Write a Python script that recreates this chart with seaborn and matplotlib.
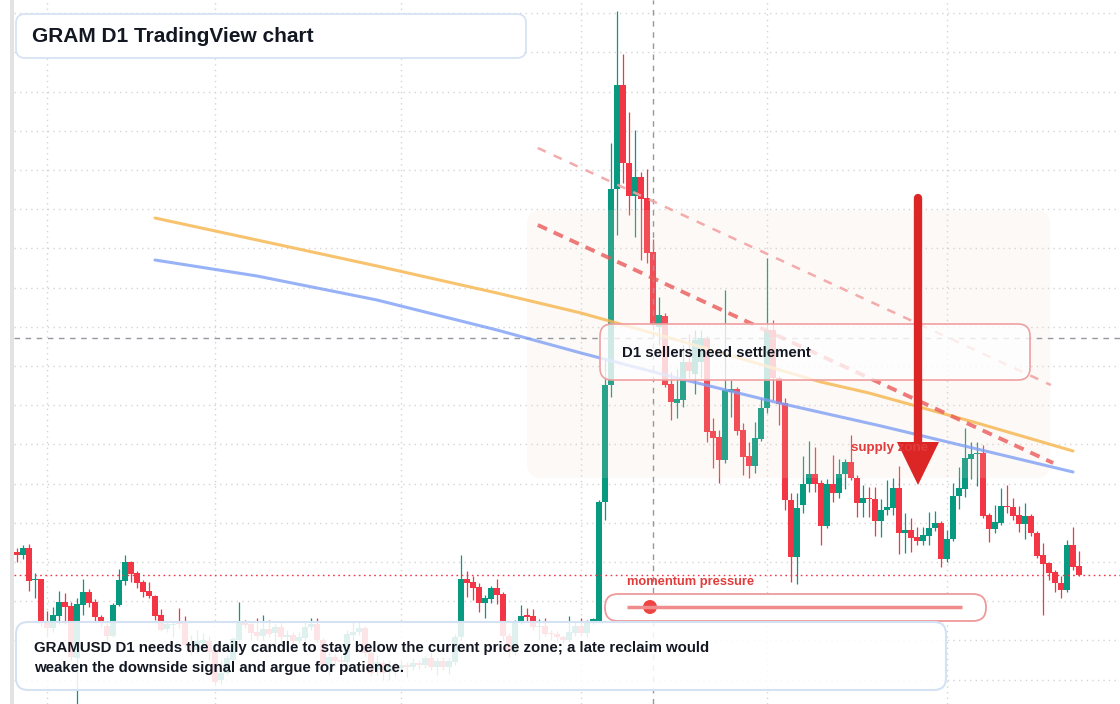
import numpy as np
import pandas as pd
import matplotlib
matplotlib.use("Agg")
import matplotlib.pyplot as plt
import seaborn as sns
from matplotlib.patches import FancyBboxPatch, Rectangle, Polygon, Circle

# GRAMUSD daily candles (price units, x1e-4)
opens = [15.2, 14.9, 15.6, 12.4, 12.5, 8.2, 7.6, 8.8, 10.2, 9.8,
         4.6, 9.9, 11.2, 10.2, 8.7, 7.8, 6.8, 9.9, 12.3, 14.2,
         13.1, 12.2, 11.3, 10.8, 8.9, 7.5, 7.9, 8.2, 8.2, 5.9,
         5.4, 6.1, 6.3, 5.4, 2.4, 3.1, 4.4, 6.4, 8.2, 8.0,
         7.2, 6.8, 7.5, 7.1, 7.7, 6.7, 6.9, 6.3, 6.6, 7.7,
         8.0, 6.4, 3.7, 4.7, 4.4, 4.2, 6.9, 7.2, 7.6, 5.1,
         3.4, 4.1, 3.2, 3.8, 3.6, 3.9, 3.7, 4.1, 3.9, 4.6,
         3.7, 4.3, 3.7, 4.2, 6.7, 12.5, 12.2, 11.7, 10.1, 10.5,
         11.6, 11.0, 6.8, 5.2, 8.2, 8.9, 8.8, 7.7, 7.8, 7.1,
         7.0, 6.7, 6.4, 7.1, 7.8, 7.1, 8.2, 8.3, 20.2, 31.9,
         51.5, 61.9, 54.1, 50.8, 52.7, 50.6, 45.2, 37.7, 38.8, 32.0,
         30.1, 30.4, 34.2, 33.0, 34.2, 36.6, 27.3, 26.7, 24.4, 31.2,
         31.5, 27.4, 24.8, 23.8, 26.5, 29.6, 37.4, 32.6, 30.1, 20.4,
         14.7, 19.9, 22.0, 23.0, 22.1, 17.8, 22.0, 21.1, 23.0, 24.2,
         22.6, 20.1, 20.6, 20.5, 18.3, 19.4, 19.6, 21.6, 17.1, 17.4,
         16.7, 16.3, 16.8, 17.6, 18.1, 14.5, 16.5, 20.8, 21.5, 24.5,
         25.0, 25.1, 18.9, 17.5, 18.1, 19.8, 19.7, 18.9, 18.0, 18.8,
         17.1, 14.9, 14.1, 13.2, 12.1, 11.4, 15.9, 13.8]
highs = [15.6, 15.9, 16.0, 13.1, 12.5, 9.3, 9.7, 11.3, 11.1, 10.2,
         10.6, 12.5, 11.5, 10.5, 8.9, 8.2, 10.1, 13.5, 14.9, 14.3,
         13.3, 12.4, 12.2, 10.9, 9.5, 8.3, 8.3, 9.6, 8.8, 6.9,
         7.4, 7.1, 6.8, 5.9, 4.4, 4.9, 6.7, 10.2, 8.4, 8.2,
         8.6, 8.9, 8.4, 8.0, 8.1, 7.4, 7.2, 7.2, 8.2, 8.6,
         8.6, 6.6, 5.2, 5.0, 4.9, 7.4, 8.2, 8.3, 7.8, 5.4,
         4.9, 4.4, 4.4, 4.2, 4.4, 4.2, 4.6, 4.4, 4.8, 5.2,
         4.6, 4.7, 4.6, 7.0, 14.9, 13.3, 12.8, 12.1, 10.9, 11.8,
         12.5, 11.2, 7.1, 8.4, 9.9, 9.6, 9.5, 8.5, 8.6, 7.4,
         7.3, 6.9, 8.8, 8.2, 8.6, 8.4, 8.6, 20.4, 34.6, 56.1,
         69.3, 65.0, 59.2, 57.4, 53.2, 53.5, 46.5, 40.7, 39.1, 33.2,
         33.5, 35.9, 37.0, 37.4, 37.4, 36.8, 28.6, 27.4, 41.4, 32.4,
         31.7, 28.1, 26.2, 28.2, 30.6, 44.6, 38.4, 32.8, 30.6, 21.1,
         21.1, 24.8, 26.3, 25.7, 22.4, 22.5, 24.9, 24.5, 24.5, 26.9,
         22.9, 21.9, 21.7, 21.7, 20.5, 22.4, 22.6, 23.8, 19.1, 18.6,
         17.7, 17.7, 19.2, 19.3, 18.3, 17.4, 22.1, 23.7, 27.6, 26.2,
         26.2, 25.9, 19.1, 19.9, 21.6, 21.9, 20.6, 19.8, 20.1, 19.0,
         17.3, 16.1, 14.2, 13.4, 12.8, 16.4, 17.7, 15.3]
lows = [14.2, 14.5, 11.3, 10.6, 7.8, 6.7, 7.2, 8.0, 8.0, 4.4,
        0.0, 8.9, 9.7, 8.2, 7.7, 6.3, 6.7, 9.8, 11.9, 12.2,
        11.6, 10.7, 10.6, 8.4, 7.3, 7.2, 6.7, 7.6, 5.7, 4.9,
        5.1, 5.6, 4.4, 1.9, 2.0, 2.9, 4.2, 6.1, 7.6, 6.4,
        6.4, 6.4, 6.7, 5.9, 6.1, 6.1, 5.9, 6.0, 6.3, 7.4,
        6.2, 3.6, 2.9, 3.8, 3.4, 3.6, 6.4, 6.9, 4.8, 2.8,
        2.9, 2.4, 2.4, 2.8, 3.2, 2.7, 3.4, 3.5, 3.6, 3.4,
        2.9, 3.4, 3.0, 3.9, 6.4, 10.7, 10.4, 9.2, 8.6, 10.1,
        10.0, 6.4, 4.7, 4.9, 8.0, 8.3, 7.4, 6.4, 6.8, 6.4,
        6.2, 6.1, 6.2, 6.8, 6.8, 6.7, 8.0, 8.2, 18.4, 30.7,
        46.9, 52.1, 48.9, 46.7, 44.4, 44.1, 37.4, 35.9, 31.7, 28.4,
        28.6, 29.7, 32.6, 31.0, 32.6, 26.2, 23.6, 22.1, 24.1, 28.7,
        26.9, 22.9, 22.6, 23.1, 26.3, 29.1, 30.4, 27.9, 19.4, 12.2,
        12.0, 19.1, 21.2, 21.2, 15.9, 17.6, 20.2, 20.6, 21.5, 22.4,
        18.7, 18.7, 18.7, 16.8, 16.7, 18.9, 18.9, 15.0, 15.1, 15.2,
        15.9, 15.9, 15.9, 17.3, 13.7, 14.2, 16.3, 19.5, 20.7, 22.5,
        21.8, 18.6, 16.2, 17.1, 17.9, 19.1, 18.4, 17.2, 16.5, 16.8,
        14.6, 8.9, 12.4, 11.2, 10.6, 11.2, 13.4, 12.8]
closes = [14.9, 15.6, 12.3, 12.5, 8.1, 7.6, 8.9, 10.2, 9.7, 4.7,
          10.0, 11.2, 10.1, 8.7, 8.2, 6.8, 9.9, 12.4, 14.2, 13.0,
          12.1, 11.2, 10.8, 8.8, 7.4, 8.0, 8.0, 8.0, 5.9, 5.4,
          6.3, 6.4, 5.2, 2.2, 3.1, 4.6, 6.5, 8.2, 7.9, 7.1,
          6.8, 7.5, 7.0, 7.7, 6.7, 6.9, 6.3, 6.7, 7.7, 8.0,
          6.4, 3.9, 4.7, 4.3, 4.2, 7.0, 7.2, 7.6, 5.1, 3.1,
          4.2, 3.1, 3.8, 3.5, 3.9, 3.7, 4.1, 3.9, 4.6, 3.7,
          4.3, 3.7, 4.3, 6.7, 12.5, 12.1, 11.6, 10.1, 10.6, 11.6,
          10.9, 6.8, 5.2, 8.2, 8.8, 8.7, 7.7, 7.8, 7.0, 7.0,
          6.7, 6.4, 7.2, 7.8, 7.1, 8.2, 8.5, 20.2, 31.9, 51.5,
          61.9, 54.1, 50.8, 52.7, 50.5, 45.1, 37.9, 38.9, 31.9, 30.2,
          30.5, 34.2, 33.3, 36.4, 36.6, 27.2, 26.6, 24.4, 31.4, 31.5,
          27.3, 24.7, 23.8, 26.6, 29.6, 37.4, 32.6, 30.0, 20.4, 14.7,
          19.6, 22.0, 23.0, 22.0, 17.8, 22.0, 21.1, 23.0, 24.2, 22.6,
          20.1, 20.6, 20.5, 18.3, 19.4, 19.7, 21.6, 17.1, 17.4, 16.6,
          16.3, 16.9, 17.6, 18.1, 14.5, 16.5, 20.8, 21.6, 24.6, 25.0,
          25.1, 18.8, 17.5, 18.2, 19.8, 19.7, 18.8, 18.0, 18.8, 17.1,
          14.8, 14.0, 13.1, 12.1, 11.4, 15.9, 13.7, 12.9]

dates = pd.date_range("2025-01-27", periods=len(opens), freq="D")

# moving-average style lines (day index, price)
orange_idx = [23, 40, 60, 80, 94, 110, 134, 142, 160, 176]
orange_val = [48.6, 46.4, 43.8, 41.1, 39.1, 36.4, 32.2, 31.1, 28.1, 25.3]
blue_idx = [23, 40, 60, 80, 94, 110, 127, 144, 160, 176]
blue_val = [44.4, 42.8, 40.4, 37.4, 35.1, 32.6, 30.1, 27.8, 25.5, 23.2]

# descending trendlines: (start idx, start price, end idx, end price)
trend_main = [86.8, 47.9, 172.7, 24.1]
trend_outer = [86.8, 55.6, 172.3, 31.9]

# supply zone (idx from, idx to, price low, price high)
zone = [85.0, 172.2, 22.6, 49.4]
cross_idx = 106
cross_price = 36.6

sns.set_theme(style="white")
plt.rcParams["font.family"] = ["Liberation Sans", "DejaVu Sans"]

W, H = 1120, 704
fig = plt.figure(figsize=(W / 100, H / 100), dpi=100)
left = 14
ax = fig.add_axes([left / W, 0, 1 - left / W, 1])
ax.set_xlim((left - 17) / 6, (W - 17) / 6)
ax.set_ylim(0, 70.4)
ax.set_xticks([])
ax.set_yticks([])
for s in ax.spines.values():
    s.set_visible(False)

x = np.arange(len(opens))
o = np.array(opens)
c = np.array(closes)
h = np.array(highs)
l = np.array(lows)

# grid: month starts and price levels
month_pos = x[dates.day == 1]
for m in month_pos:
    ax.axvline(m, color="#d4d4d4", lw=1, ls=(0, (1, 3)), zorder=0)
for lev in np.arange(2.44, 70.4, 3.92):
    ax.axhline(lev, color="#d4d4d4", lw=1, ls=(0, (1, 3)), zorder=0)

# candles
col = np.where(c >= o, "#089981", "#f23645")
ax.vlines(x, l, h, colors=col, lw=0.9, zorder=3)
ax.bar(x, np.maximum(np.abs(c - o), 0.15), bottom=np.minimum(o, c), width=0.86,
       color=col, linewidth=0, zorder=3)

# supply zone
zr = FancyBboxPatch((zone[0], zone[2]), zone[1] - zone[0], zone[3] - zone[2],
                    boxstyle="round,pad=0,rounding_size=2.5", mutation_aspect=0.6,
                    fc="#f5d9c5", ec="none", alpha=0.15, zorder=4)
ax.add_patch(zr)

# crosshair and last price line
ax.axvline(cross_idx, color="#9598a1", lw=1, ls=(0, (4, 4)), zorder=5)
ax.axhline(cross_price, color="#9598a1", lw=1, ls=(0, (4, 4)), zorder=5)
ax.axhline(closes[-1], color="#f23645", lw=1, ls=(0, (1.2, 2.5)), zorder=5)

# moving averages
sns.lineplot(x=orange_idx, y=orange_val, ax=ax, color="#f7b955", lw=2.2, alpha=0.85, zorder=6)
sns.lineplot(x=blue_idx, y=blue_val, ax=ax, color="#7f9ff5", lw=2.2, alpha=0.8, zorder=6)

# trendlines
ax.plot(trend_outer[0::2], trend_outer[1::2], color="#f2a3a3", lw=1.8,
        dashes=(3.5, 3.5), alpha=0.9, zorder=6)
ax.plot(trend_main[0::2], trend_main[1::2], color="#ea5a5a", lw=2.8,
        dashes=(2.6, 1.9), alpha=0.8, zorder=6)

# overlay in pixel space for annotations
ov = fig.add_axes([0, 0, 1, 1], zorder=5)
ov.set_xlim(0, W)
ov.set_ylim(H, 0)
ov.axis("off")
ov.patch.set_alpha(0)

ov.add_patch(Rectangle((10, 0), 4, H, fc="#e3e3e3", ec="none"))

txt = "#131722"
red = "#e23b3b"

# D1 sellers box
ov.add_patch(FancyBboxPatch((600, 324), 430, 56, boxstyle="round,pad=0,rounding_size=12",
                            fc=(1, 1, 1, 0.78), ec="#f0a0a0", lw=1.2))
ov.text(622, 353, "D1 sellers need settlement", fontsize=10.8, fontweight="bold",
        color=txt, va="center", ha="left")

# supply zone label + arrow
ov.text(851, 448, "supply zone", fontsize=9.6, fontweight="bold", color=red,
        va="center", ha="left")
ov.plot([918, 918], [198, 445], color="#dc2626", lw=6, solid_capstyle="round")
ov.add_patch(Polygon([(897, 442), (939, 442), (918, 485)], closed=True,
                     fc="#dc2626", ec="none"))

# momentum slider
ov.text(627, 582, "momentum pressure", fontsize=9.3, fontweight="bold", color=red,
        va="center", ha="left")
ov.add_patch(FancyBboxPatch((605, 594), 381, 27, boxstyle="round,pad=0,rounding_size=13",
                            fc="white", ec="#ef9a9a", lw=1.3))
ov.plot([627, 962], [607, 607], color="#f08c8c", lw=2.5, solid_capstyle="butt")
ov.add_patch(Circle((650, 607), 7, fc="#ef4444", ec="none"))

# title box
ov.add_patch(FancyBboxPatch((16, 14), 510, 44, boxstyle="round,pad=0,rounding_size=9",
                            fc="white", ec="#d4e2f4", lw=1.2))
ov.text(32, 36, "GRAM D1 TradingView chart", fontsize=15, fontweight="bold",
        color=txt, va="center", ha="left")

# bottom note box
ov.add_patch(FancyBboxPatch((16, 622), 930, 68, boxstyle="round,pad=0,rounding_size=12",
                            fc=(1, 1, 1, 0.87), ec="#d4e2f4", lw=1.5))
ov.text(34, 648, "GRAMUSD D1 needs the daily candle to stay below the current price zone; a late reclaim would",
        fontsize=10.8, fontweight="bold", color=txt, va="center", ha="left")
ov.text(34, 668, "weaken the downside signal and argue for patience.",
        fontsize=10.8, fontweight="bold", color=txt, va="center", ha="left")

fig.savefig("out.png", dpi=100)
